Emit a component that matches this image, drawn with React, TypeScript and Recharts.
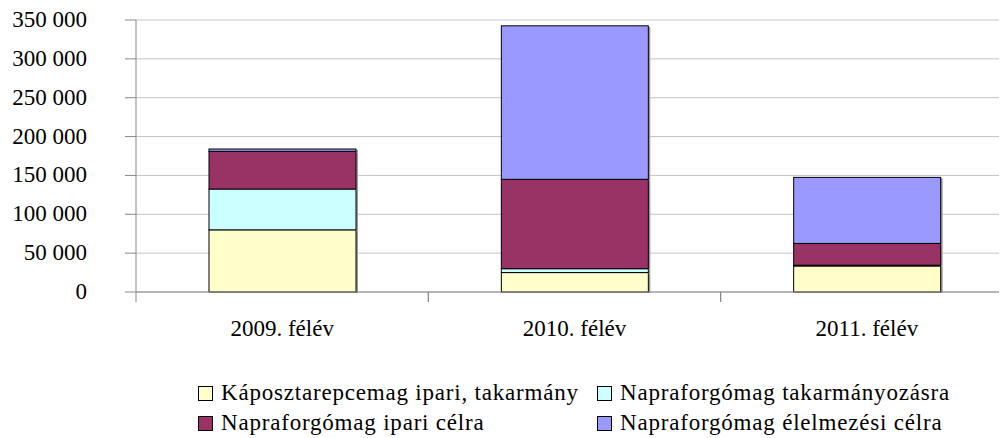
import React from "react";
import { BarChart, Bar, XAxis, YAxis, CartesianGrid } from "recharts";

const categories = ["2009. félév", "2010. félév", "2011. félév"];
const seriesNames = [
  "Káposztarepcemag ipari, takarmány",
  "Napraforgómag takarmányozásra",
  "Napraforgómag ipari célra",
  "Napraforgómag élelmezési célra",
];
const repce = [80000, 25000, 33500];
const naprTakarmany = [52500, 5000, 1000];
const naprIpari = [48500, 115000, 28000];
const naprElelmezesi = [3000, 197500, 85000];
const yTicks = [0, 50000, 100000, 150000, 200000, 250000, 300000, 350000];
const colors = ["#FFFFCC", "#CCFFFF", "#993366", "#9999FF"];
const keys = ["s0", "s1", "s2", "s3"];

const seriesValues = [repce, naprTakarmany, naprIpari, naprElelmezesi];
const data = categories.map((c, i) => ({
  name: c,
  s0: seriesValues[0][i],
  s1: seriesValues[1][i],
  s2: seriesValues[2][i],
  s3: seriesValues[3][i],
}));

const FONT = "Liberation Serif, Times New Roman, DejaVu Serif, serif";
const FS = 23;
const CHART_W = 1005;
const CHART_H = 430;
const Y_W = 128;
const BAND = (CHART_W - Y_W) / categories.length;

const fmt = (v: number) => String(v).replace(/\B(?=(\d{3})+(?!\d))/g, " ");

const XTick = (props: any) => {
  const { x, y, payload } = props;
  return (
    <g>
      <line x1={x - BAND / 2} y1={y - 8} x2={x - BAND / 2} y2={y + 2} stroke="#888" />
      <line x1={x + BAND / 2} y1={y - 8} x2={x + BAND / 2} y2={y + 2} stroke="#888" />
      <text x={x} y={y + 36} textAnchor="middle" fontFamily={FONT} fontSize={FS} fill="#000">
        {payload.value}
      </text>
    </g>
  );
};

const YTick = (props: any) => {
  const { x, y, payload } = props;
  return (
    <text x={x} y={y} dy={7} textAnchor="end" fontFamily={FONT} fontSize={FS} fill="#000">
      {fmt(payload.value)}
    </text>
  );
};

const ShadowBar = (props: any) => {
  const { x, y, width, height, fill } = props;
  if (!height || height <= 0) return null;
  return (
    <g>
      <rect x={x + width} y={y + 1} width={2} height={height} fill="#9a9a9a" />
      <rect x={x} y={y} width={width} height={height} fill={fill} stroke="#000" strokeWidth={1} />
    </g>
  );
};

export default function App() {
  return (
    <div style={{ width: 999, height: 430, overflow: "hidden", position: "relative" }}>
      <BarChart
        width={CHART_W}
        height={CHART_H}
        data={data}
        margin={{ top: 12, right: 0, bottom: 106, left: 0 }}
        barSize={147}
      >
        <CartesianGrid vertical={false} stroke="#c4c4c4" />
        <XAxis
          dataKey="name"
          height={40}
          stroke="#888"
          tickLine={false}
          tick={<XTick />}
          interval={0}
        />
        <YAxis
          width={Y_W}
          domain={[0, 350000]}
          ticks={yTicks}
          stroke="#888"
          tickSize={11}
          tickMargin={38}
          tick={<YTick />}
        />
        {keys.map((k, i) => (
          <Bar
            key={k}
            dataKey={k}
            stackId="a"
            fill={colors[i]}
            stroke="#000"
            strokeWidth={1}
            shape={<ShadowBar />}
            isAnimationActive={false}
          />
        ))}
      </BarChart>
      <div
        style={{
          position: "absolute",
          left: 190,
          top: 373,
          display: "grid",
          gridTemplateColumns: "399px 400px",
          rowGap: 6,
          fontFamily: FONT,
          fontSize: FS,
          letterSpacing: 0.8,
          color: "#000",
        }}
      >
        {seriesNames.map((n, i) => (
          <div key={n} style={{ display: "flex", alignItems: "center", height: 24, whiteSpace: "nowrap" }}>
            <span
              style={{
                display: "inline-block",
                width: 13,
                height: 13,
                background: colors[i],
                border: "1px solid #000",
                marginRight: 8,
              }}
            />
            {n}
          </div>
        ))}
      </div>
    </div>
  );
}
